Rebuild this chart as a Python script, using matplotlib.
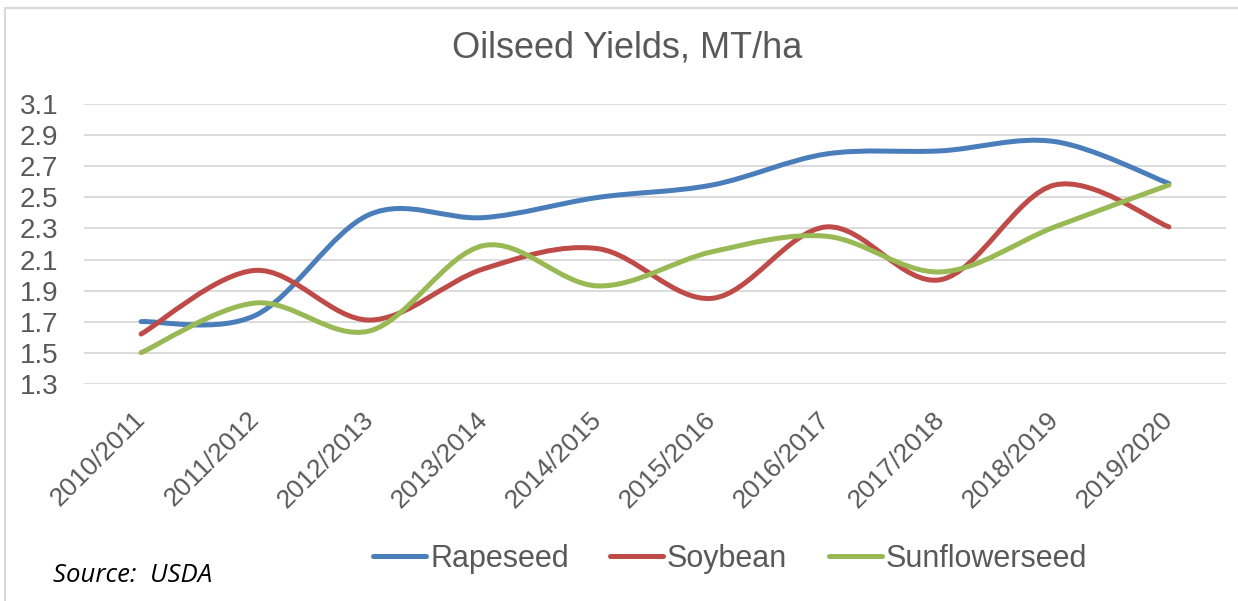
import matplotlib
matplotlib.use("Agg")
import matplotlib.pyplot as plt
from matplotlib.path import Path
from matplotlib.patches import PathPatch
from matplotlib.lines import Line2D
import numpy as np

seasons = ["2010/2011", "2011/2012", "2012/2013", "2013/2014", "2014/2015",
           "2015/2016", "2016/2017", "2017/2018", "2018/2019", "2019/2020"]
rapeseed = [1.70, 1.74, 2.39, 2.37, 2.50, 2.58, 2.78, 2.80, 2.86, 2.59]
soybean = [1.62, 2.03, 1.71, 2.04, 2.17, 1.85, 2.31, 1.97, 2.58, 2.31]
sunflowerseed = [1.50, 1.82, 1.64, 2.19, 1.93, 2.15, 2.25, 2.02, 2.31, 2.58]
yticks = [1.3, 1.5, 1.7, 1.9, 2.1, 2.3, 2.5, 2.7, 2.9, 3.1]

series = [("Rapeseed", rapeseed, "#4A7EBB"),
          ("Soybean", soybean, "#BE4B48"),
          ("Sunflowerseed", sunflowerseed, "#98B954")]

TXT = "#595959"
FONT = "Liberation Sans"
W, H = 1238, 601
fig = plt.figure(figsize=(W / 100, H / 100), dpi=100)
fig.patch.set_facecolor("white")

# chart frame (top and left visible)
fig.add_artist(Line2D([5 / W, 1.0], [1 - 8 / H, 1 - 8 / H], color="#D9D9D9", lw=1.5))
fig.add_artist(Line2D([5 / W, 5 / W], [0.0, 1 - 8 / H], color="#D9D9D9", lw=1.5))

ax = fig.add_axes([84 / W, 1 - 383.7 / H, (1226 - 84) / W, (383.7 - 104.3) / H])
ax.set_xlim(-0.5, len(seasons) - 0.5)
ax.set_ylim(1.3, 3.1)
for s in ax.spines.values():
    s.set_visible(False)
ax.set_yticks(yticks)
ax.set_yticklabels([f"{v:.1f}" for v in yticks], fontsize=20, color=TXT, family=FONT)
ax.yaxis.grid(True, color="#D9D9D9", lw=1.3)
ax.set_axisbelow(True)
ax.tick_params(axis="y", length=0, pad=18.7)
ax.set_xticks(range(len(seasons)))
ax.set_xticklabels(seasons, rotation=45, ha="right", va="center", rotation_mode="anchor",
                   fontsize=19, color=TXT, family=FONT)
ax.tick_params(axis="x", length=0, pad=23)


def smooth_path(xs, ys):
    pts = np.column_stack([xs, ys]).astype(float)
    n = len(pts)
    verts = [pts[0]]
    codes = [Path.MOVETO]
    for i in range(n - 1):
        p0 = pts[i - 1] if i > 0 else pts[i]
        p1 = pts[i]
        p2 = pts[i + 1]
        p3 = pts[i + 2] if i + 2 < n else pts[i + 1]
        c1 = p1 + (p2 - p0) / 6.0
        c2 = p2 - (p3 - p1) / 6.0
        verts += [c1, c2, p2]
        codes += [Path.CURVE4] * 3
    return Path(verts, codes)


handles = []
for name, vals, col in series:
    p = smooth_path(np.arange(len(vals)), vals)
    ax.add_patch(PathPatch(p, facecolor="none", edgecolor=col, lw=3.6,
                           capstyle="round", joinstyle="round", zorder=3))
    handles.append(Line2D([], [], color=col, lw=3.6, solid_capstyle="round", label=name))

leg = fig.legend(handles=handles, loc="center", bbox_to_anchor=(730 / W, 1 - 559 / H),
                 ncol=3, frameon=False, handlelength=1.75, handletextpad=0.12,
                 columnspacing=1.35, borderpad=0, prop={"family": FONT, "size": 22})
for t in leg.get_texts():
    t.set_color(TXT)

fig.text(627 / W, 1 - 48 / H, "Oilseed Yields, MT/ha", ha="center", va="center",
         fontsize=26, color=TXT, family=FONT)
fig.text(53 / W, 1 - 576 / H, "Source:  USDA", ha="left", va="center",
         fontsize=18.5, style="italic", color="black", family="Open Sans")

fig.savefig("out.png", dpi=100, facecolor="white")
